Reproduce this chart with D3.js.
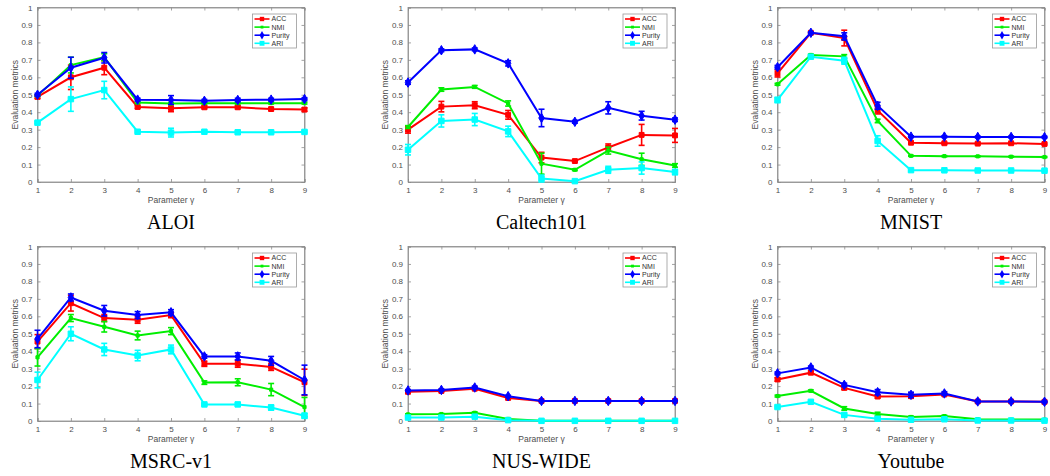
<!DOCTYPE html>
<html>
<head>
<meta charset="utf-8">
<script src="https://cdn.jsdelivr.net/npm/d3@7"></script>
<style>
  body { margin: 0; background: #fff; }
  svg { display: block; }
</style>
</head>
<body>
<div id="chart"></div>
<script>
// Parameter gamma values on the x axis
const gammas = [1, 2, 3, 4, 5, 6, 7, 8, 9];
const metrics = ["ACC", "NMI", "Purity", "ARI"];
const metricColors = ["#ff0000", "#00ee00", "#0000ff", "#00ffff"];
const yTicks = [0, 0.1, 0.2, 0.3, 0.4, 0.5, 0.6, 0.7, 0.8, 0.9, 1];
const datasets = ["ALOI", "Caltech101", "MNIST", "MSRC-v1", "NUS-WIDE", "Youtube"];

// means: rows = ACC, NMI, Purity, ARI
const aloiMeans = [
  [0.488, 0.600, 0.655, 0.430, 0.423, 0.428, 0.428, 0.418, 0.415],
  [0.495, 0.670, 0.715, 0.455, 0.450, 0.452, 0.452, 0.452, 0.452],
  [0.500, 0.655, 0.712, 0.472, 0.470, 0.465, 0.470, 0.472, 0.475],
  [0.340, 0.475, 0.527, 0.288, 0.283, 0.288, 0.285, 0.285, 0.287]
];
const aloiErrs = [
  [0.010, 0.070, 0.040, 0.008, 0.020, 0.008, 0.008, 0.008, 0.010],
  [0.005, 0.045, 0.020, 0.005, 0.005, 0.005, 0.005, 0.005, 0.005],
  [0.008, 0.060, 0.030, 0.008, 0.025, 0.008, 0.010, 0.008, 0.008],
  [0.005, 0.070, 0.050, 0.005, 0.025, 0.005, 0.008, 0.005, 0.005]
];

const caltechMeans = [
  [0.300, 0.432, 0.440, 0.385, 0.140, 0.120, 0.198, 0.270, 0.267],
  [0.315, 0.530, 0.545, 0.450, 0.105, 0.070, 0.180, 0.130, 0.095],
  [0.570, 0.755, 0.760, 0.680, 0.367, 0.345, 0.425, 0.380, 0.357],
  [0.185, 0.350, 0.358, 0.290, 0.020, 0.005, 0.070, 0.080, 0.057]
];
const caltechErrs = [
  [0.020, 0.030, 0.020, 0.025, 0.030, 0.005, 0.020, 0.060, 0.040],
  [0.008, 0.010, 0.008, 0.015, 0.060, 0.005, 0.020, 0.035, 0.010],
  [0.010, 0.008, 0.008, 0.015, 0.050, 0.008, 0.035, 0.025, 0.010],
  [0.030, 0.035, 0.035, 0.030, 0.020, 0.005, 0.020, 0.035, 0.015]
];

const mnistMeans = [
  [0.622, 0.855, 0.825, 0.410, 0.225, 0.222, 0.220, 0.222, 0.218],
  [0.560, 0.728, 0.720, 0.350, 0.150, 0.148, 0.147, 0.145, 0.143],
  [0.658, 0.855, 0.835, 0.437, 0.260, 0.260, 0.258, 0.258, 0.257],
  [0.470, 0.718, 0.695, 0.235, 0.068, 0.067, 0.066, 0.066, 0.065]
];
const mnistErrs = [
  [0.020, 0.005, 0.045, 0.020, 0.005, 0.005, 0.005, 0.005, 0.005],
  [0.005, 0.005, 0.010, 0.010, 0.003, 0.003, 0.003, 0.003, 0.003],
  [0.010, 0.005, 0.020, 0.020, 0.005, 0.005, 0.005, 0.005, 0.005],
  [0.015, 0.005, 0.020, 0.030, 0.005, 0.003, 0.003, 0.003, 0.003]
];

const msrcMeans = [
  [0.455, 0.675, 0.590, 0.580, 0.607, 0.328, 0.328, 0.310, 0.222],
  [0.365, 0.590, 0.540, 0.490, 0.515, 0.220, 0.222, 0.180, 0.080],
  [0.470, 0.708, 0.632, 0.607, 0.623, 0.370, 0.370, 0.345, 0.235],
  [0.235, 0.500, 0.410, 0.375, 0.410, 0.095, 0.095, 0.077, 0.030]
];
const msrcErrs = [
  [0.040, 0.045, 0.020, 0.020, 0.015, 0.015, 0.020, 0.020, 0.075],
  [0.050, 0.020, 0.030, 0.025, 0.020, 0.010, 0.020, 0.035, 0.055],
  [0.050, 0.020, 0.030, 0.020, 0.015, 0.010, 0.020, 0.025, 0.085],
  [0.045, 0.040, 0.035, 0.030, 0.025, 0.005, 0.010, 0.015, 0.015]
];

const nusMeans = [
  [0.167, 0.172, 0.185, 0.132, 0.115, 0.115, 0.115, 0.115, 0.115],
  [0.038, 0.040, 0.047, 0.012, 0.002, 0.002, 0.002, 0.002, 0.002],
  [0.175, 0.178, 0.192, 0.142, 0.115, 0.115, 0.115, 0.115, 0.115],
  [0.020, 0.020, 0.025, 0.005, 0.001, 0.001, 0.001, 0.001, 0.001]
];
const nusErrs = [
  [0.005, 0.005, 0.005, 0.005, 0.003, 0.003, 0.003, 0.003, 0.003],
  [0.003, 0.003, 0.005, 0.003, 0.001, 0.001, 0.001, 0.001, 0.001],
  [0.005, 0.005, 0.008, 0.005, 0.003, 0.003, 0.003, 0.003, 0.003],
  [0.003, 0.003, 0.003, 0.002, 0.001, 0.001, 0.001, 0.001, 0.001]
];

const youtubeMeans = [
  [0.238, 0.277, 0.190, 0.140, 0.142, 0.152, 0.112, 0.112, 0.110],
  [0.143, 0.173, 0.072, 0.040, 0.023, 0.028, 0.010, 0.008, 0.008],
  [0.273, 0.307, 0.207, 0.165, 0.150, 0.158, 0.112, 0.112, 0.110],
  [0.080, 0.110, 0.035, 0.013, 0.007, 0.010, 0.003, 0.003, 0.002]
];
const youtubeErrs = [
  [0.010, 0.010, 0.010, 0.008, 0.010, 0.005, 0.003, 0.003, 0.003],
  [0.005, 0.005, 0.010, 0.010, 0.005, 0.005, 0.003, 0.003, 0.003],
  [0.008, 0.008, 0.010, 0.015, 0.015, 0.010, 0.005, 0.005, 0.005],
  [0.005, 0.005, 0.010, 0.005, 0.003, 0.003, 0.002, 0.002, 0.002]
];

const allMeans = [aloiMeans, caltechMeans, mnistMeans, msrcMeans, nusMeans, youtubeMeans];
const allErrs = [aloiErrs, caltechErrs, mnistErrs, msrcErrs, nusErrs, youtubeErrs];

/*******************************/
/*    Layout                   */
/*******************************/
const width = 1050, height = 476;
const colLeft = [37.5, 408, 777.5];
const rowTop = [7.5, 246.5];
const plotW = 267, plotH = 174.5;
const axisColor = "#8c8c8c";
const textColor = "#4d4d4d";

const svg = d3.select("#chart")
  .append("svg")
    .attr("width", width)
    .attr("height", height)
    .attr("viewBox", `0 0 ${width} ${height}`);

const markerSymbol = [d3.symbolSquare, d3.symbolSquare, d3.symbolDiamond, d3.symbolSquare];
const markerSize = [24, 10, 26, 30];

const drawPanel = (idx) => {
  const means = allMeans[idx];
  const errs = allErrs[idx];
  const left = colLeft[idx % 3];
  const top = rowTop[Math.floor(idx / 3)];

  const g = svg.append("g")
    .attr("transform", `translate(${left}, ${top})`);

  const xScale = d3.scaleLinear().domain([1, 9]).range([0, plotW]);
  const yScale = d3.scaleLinear().domain([0, 1]).range([plotH, 0]);

  // box
  g.append("rect")
    .attr("width", plotW)
    .attr("height", plotH)
    .attr("fill", "white")
    .attr("stroke", axisColor)
    .attr("stroke-width", 0.8);

  // axes (ticks pointing inward like MATLAB)
  const bottomAxis = d3.axisBottom(xScale).tickValues(gammas).tickSize(-3).tickPadding(5);
  const xAx = g.append("g")
    .attr("transform", `translate(0, ${plotH})`)
    .call(bottomAxis);
  const leftAxis = d3.axisLeft(yScale).tickValues(yTicks).tickSize(-3).tickPadding(5)
    .tickFormat(d3.format("~g"));
  const yAx = g.append("g").call(leftAxis);
  [xAx, yAx].forEach(ax => {
    ax.select(".domain").attr("stroke", axisColor).attr("stroke-width", 0.8);
    ax.selectAll(".tick line").attr("stroke", axisColor).attr("stroke-width", 0.8);
    ax.selectAll(".tick text")
      .attr("fill", textColor)
      .attr("font-family", "Liberation Sans, Arial, sans-serif")
      .attr("font-size", "8px");
  });
  // top/right ticks
  g.append("g")
    .call(d3.axisTop(xScale).tickValues(gammas).tickSize(-3).tickFormat(""))
    .call(a => a.selectAll("line,path").attr("stroke", axisColor).attr("stroke-width", 0.8));
  g.append("g")
    .attr("transform", `translate(${plotW}, 0)`)
    .call(d3.axisRight(yScale).tickValues(yTicks).tickSize(-3).tickFormat(""))
    .call(a => a.selectAll("line,path").attr("stroke", axisColor).attr("stroke-width", 0.8));

  // axis labels
  g.append("text")
    .text("Parameter \u03b3")
    .attr("x", plotW / 2)
    .attr("y", plotH + 21)
    .attr("text-anchor", "middle")
    .attr("fill", textColor)
    .attr("font-family", "Liberation Sans, Arial, sans-serif")
    .attr("font-size", "8.5px");
  g.append("text")
    .text("Evaluation metrics")
    .attr("transform", `translate(-20, ${plotH / 2}) rotate(-90)`)
    .attr("text-anchor", "middle")
    .attr("fill", textColor)
    .attr("font-family", "Liberation Sans, Arial, sans-serif")
    .attr("font-size", "8.5px");

  // series
  const line = d3.line()
    .x((d, i) => xScale(gammas[i]))
    .y(d => yScale(d));

  metrics.forEach((m, k) => {
    const color = metricColors[k];
    const sg = g.append("g").attr("class", "series");
    sg.append("path")
      .datum(means[k])
      .attr("d", line)
      .attr("fill", "none")
      .attr("stroke", color)
      .attr("stroke-width", 2);

    // error bars
    const eb = sg.selectAll(".err")
      .data(means[k].map((v, i) => ({ x: gammas[i], v, e: errs[k][i] })))
      .join("g")
        .attr("class", "err")
        .attr("stroke", color)
        .attr("stroke-width", 1.6);
    eb.append("line")
      .attr("x1", d => xScale(d.x)).attr("x2", d => xScale(d.x))
      .attr("y1", d => yScale(d.v - d.e)).attr("y2", d => yScale(d.v + d.e));
    eb.append("line")
      .attr("x1", d => xScale(d.x) - 3).attr("x2", d => xScale(d.x) + 3)
      .attr("y1", d => yScale(d.v - d.e)).attr("y2", d => yScale(d.v - d.e));
    eb.append("line")
      .attr("x1", d => xScale(d.x) - 3).attr("x2", d => xScale(d.x) + 3)
      .attr("y1", d => yScale(d.v + d.e)).attr("y2", d => yScale(d.v + d.e));

    // markers
    sg.selectAll(".mk")
      .data(means[k])
      .join("path")
        .attr("class", "mk")
        .attr("d", d3.symbol().type(markerSymbol[k]).size(markerSize[k]))
        .attr("transform", (d, i) => `translate(${xScale(gammas[i])}, ${yScale(d)})`)
        .attr("fill", color)
        .attr("stroke", color)
        .attr("stroke-width", 1);
  });

  // legend
  const lg = g.append("g")
    .attr("transform", `translate(${plotW - 52}, 6.5)`);
  lg.append("rect")
    .attr("width", 44)
    .attr("height", 34)
    .attr("fill", "white")
    .attr("stroke", "#9a9a9a")
    .attr("stroke-width", 0.8);
  metrics.forEach((m, k) => {
    const yy = 5 + k * 8.1;
    lg.append("line")
      .attr("x1", 2).attr("x2", 17)
      .attr("y1", yy).attr("y2", yy)
      .attr("stroke", metricColors[k])
      .attr("stroke-width", 1.6);
    lg.append("path")
      .attr("d", d3.symbol().type(markerSymbol[k]).size(markerSize[k] * 0.8))
      .attr("transform", `translate(9.5, ${yy})`)
      .attr("fill", metricColors[k]);
    lg.append("text")
      .text(m)
      .attr("x", 19)
      .attr("y", yy)
      .attr("dy", "0.35em")
      .attr("fill", "#333")
      .attr("font-family", "Liberation Sans, Arial, sans-serif")
      .attr("font-size", "7px");
  });

  // dataset title
  g.append("text")
    .text(datasets[idx])
    .attr("x", plotW / 2)
    .attr("y", plotH + 47)
    .attr("text-anchor", "middle")
    .attr("fill", "#000")
    .attr("font-family", "Liberation Serif, Times New Roman, serif")
    .attr("font-size", "20px");
};

datasets.forEach((d, i) => drawPanel(i));
</script>
</body>
</html>
